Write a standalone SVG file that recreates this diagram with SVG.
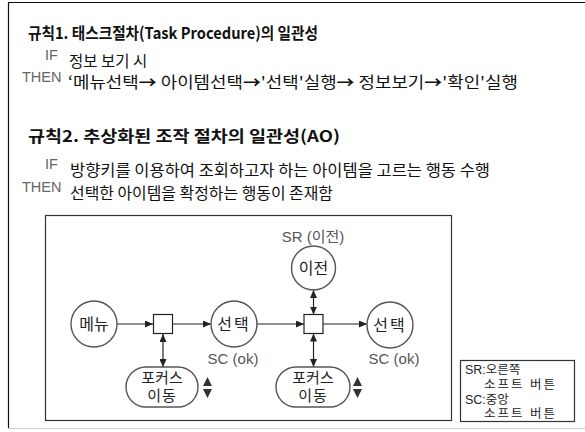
<svg xmlns="http://www.w3.org/2000/svg" width="585" height="432" viewBox="0 0 585 432">
<defs>
<style>
.t{font-family:"Noto Sans CJK KR","Liberation Sans",sans-serif;fill:#111}
.h{font-size:16px;font-weight:bold}
.b{font-size:15.5px}
.k{font-family:"Liberation Sans",Arial,sans-serif;font-size:14.5px;fill:#666}
.n{font-family:"Noto Sans CJK KR","Liberation Sans",sans-serif;font-size:16px;fill:#222;text-anchor:middle}
.p{font-family:"Liberation Sans","Noto Sans CJK KR",sans-serif;font-size:15px;fill:#222;text-anchor:middle}
.lab{font-family:"Liberation Sans","Noto Sans CJK KR",sans-serif;font-size:15px;fill:#555;text-anchor:middle}
.lg{font-family:"Liberation Sans","Noto Sans CJK KR",sans-serif;font-size:12.5px;fill:#222}
.c{fill:#fff;stroke:#555;stroke-width:1.4}
.bx{fill:#fff;stroke:#222;stroke-width:1.2}
.ln{stroke:#222;stroke-width:1.2;fill:none}
.tri{fill:#333}
</style>
<marker id="ah" viewBox="0 0 8 7" refX="8" refY="3.5" markerWidth="8" markerHeight="7" markerUnits="userSpaceOnUse" orient="auto-start-reverse">
<path d="M0,0 L8,3.5 L0,7 z" fill="#222"/>
</marker>
</defs>
<rect width="585" height="432" fill="#fff"/>
<path d="M585,2.5 H8.5 V428" fill="none" stroke="#111" stroke-width="1.2"/>
<line x1="8" y1="428.5" x2="585" y2="428.5" stroke="#ccc" stroke-width="1"/>

<g id="rule1">
<text class="t h" x="28" y="39" textLength="290" lengthAdjust="spacingAndGlyphs">규칙1. 태스크절차(Task Procedure)의 일관성</text>
<text class="k" x="45" y="60">IF</text>
<text class="t b" x="69" y="67">정보 보기 시</text>
<text class="k" x="22" y="82">THEN</text>
<text class="t b" x="68" y="88" textLength="450" lengthAdjust="spacingAndGlyphs">‘메뉴선택<tspan font-weight="bold">→</tspan> 아이템선택<tspan font-weight="bold">→</tspan>'선택'실행<tspan font-weight="bold">→</tspan> 정보보기<tspan font-weight="bold">→</tspan>'확인'실행</text>
</g>

<g id="rule2">
<text class="t h" x="28" y="142" textLength="312" lengthAdjust="spacingAndGlyphs">규칙2. 추상화된 조작 절차의 일관성(AO)</text>
<text class="k" x="45" y="169">IF</text>
<text class="t b" x="70" y="176" textLength="420" lengthAdjust="spacingAndGlyphs">방향키를 이용하여 조회하고자 하는 아이템을 고르는 행동 수행</text>
<text class="k" x="22" y="192">THEN</text>
<text class="t b" x="70" y="199" textLength="263" lengthAdjust="spacingAndGlyphs">선택한 아이템을 확정하는 행동이 존재함</text>
</g>

<rect id="frame" x="45.5" y="215.5" width="406" height="205" fill="none" stroke="#333" stroke-width="1.2"/>

<g id="connectors">
<line class="ln" x1="117" y1="324" x2="153" y2="324" marker-end="url(#ah)"/>
<line class="ln" x1="173" y1="324" x2="211" y2="324" marker-end="url(#ah)"/>
<line class="ln" x1="257" y1="324" x2="304" y2="324" marker-end="url(#ah)"/>
<line class="ln" x1="323" y1="324" x2="367" y2="324" marker-end="url(#ah)"/>
<line class="ln" x1="163" y1="334" x2="163" y2="367" marker-start="url(#ah)" marker-end="url(#ah)"/>
<line class="ln" x1="313.5" y1="290" x2="313.5" y2="314.5" marker-start="url(#ah)" marker-end="url(#ah)"/>
<line class="ln" x1="313.5" y1="333.5" x2="313.5" y2="367" marker-start="url(#ah)" marker-end="url(#ah)"/>
</g>

<g id="menu">
<circle class="c" cx="94" cy="324" r="23"/>
<text class="n" x="94" y="330">메뉴</text>
</g>
<g id="junction1">
<rect class="bx" x="153.5" y="314.5" width="19" height="19"/>
</g>
<g id="select1">
<circle class="c" cx="234" cy="324" r="23"/>
<text class="n" x="234" y="330" letter-spacing="2">선택</text>
<text class="lab" x="233" y="364">SC (ok)</text>
</g>
<g id="focus1">
<rect class="c" x="126" y="367" width="72" height="40" rx="20"/>
<text class="p" x="162" y="383">포커스</text>
<text class="p" x="162" y="401" letter-spacing="1">이동</text>
<path class="tri" d="M207.5,377 L212,386 L203,386 z M203,389 L212,389 L207.5,398 z"/>
</g>
<g id="junction2">
<rect class="bx" x="304" y="314.5" width="19" height="19"/>
</g>
<g id="prev">
<circle class="c" cx="313.5" cy="268" r="22"/>
<text class="n" x="313.5" y="274">이전</text>
<text class="lab" x="313" y="242">SR (이전)</text>
</g>
<g id="select2">
<circle class="c" cx="390" cy="325" r="23"/>
<text class="n" x="390" y="331" letter-spacing="2">선택</text>
<text class="lab" x="394" y="364">SC (ok)</text>
</g>
<g id="focus2">
<rect class="c" x="276" y="367" width="74" height="40" rx="20"/>
<text class="p" x="313" y="383">포커스</text>
<text class="p" x="313" y="401" letter-spacing="1">이동</text>
<path class="tri" d="M357.5,377 L362,386 L353,386 z M353,389 L362,389 L357.5,398 z"/>
</g>

<g id="legend">
<rect x="460.5" y="360.5" width="114" height="61" fill="#fff" stroke="#333" stroke-width="1.2"/>
<text class="lg" x="465" y="374">SR:오른쪽</text>
<text class="lg" x="484" y="389" letter-spacing="2">소프트 버튼</text>
<text class="lg" x="465" y="404">SC:중앙</text>
<text class="lg" x="484" y="418" letter-spacing="2">소프트 버튼</text>
</g>
</svg>
